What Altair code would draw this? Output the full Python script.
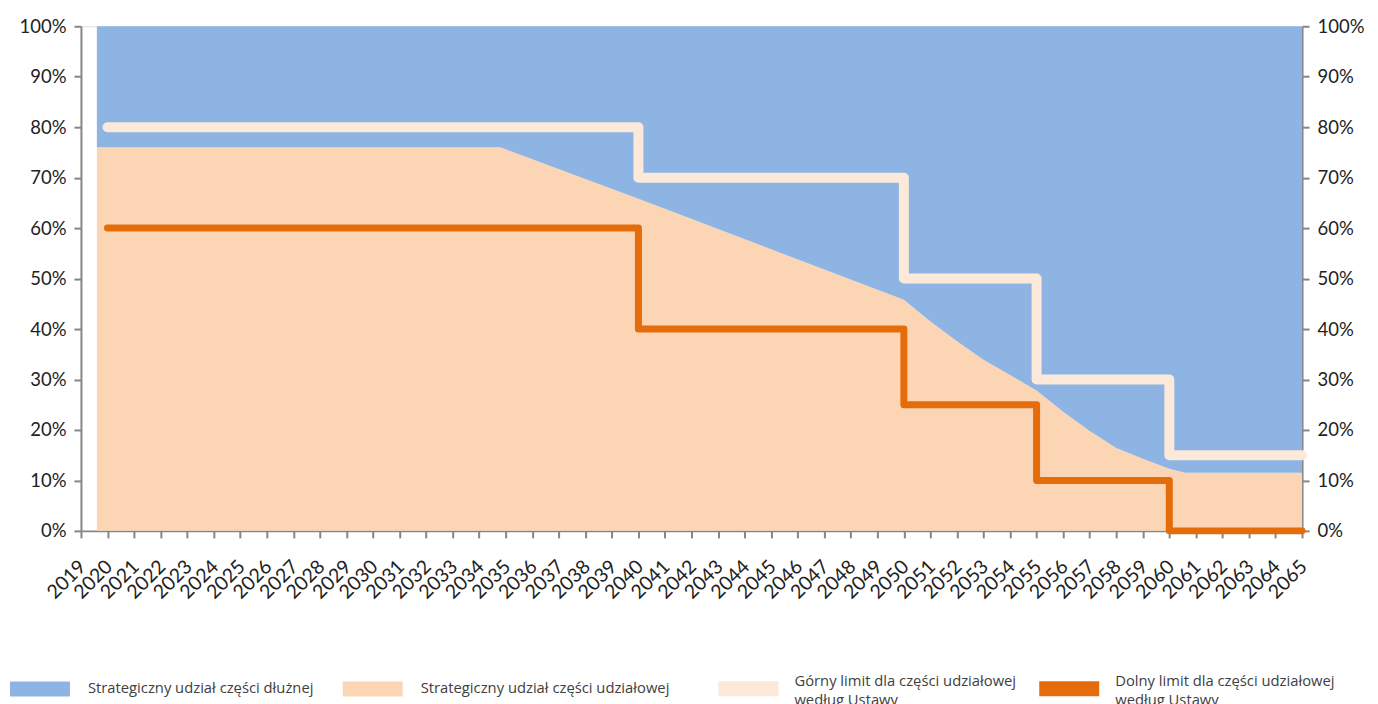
import altair as alt
import pandas as pd

# ---- data ----
area_years = [2019.6, 2034.8, 2040, 2045, 2050, 2051, 2052, 2053, 2054, 2055,
              2056, 2057, 2058, 2059, 2060, 2060.6, 2065]
equity_share = [76, 76, 65.8, 55.8, 45.8, 41.5, 37.6, 33.9, 30.9, 27.8,
                23.6, 19.8, 16.4, 14.3, 12.3, 11.5, 11.5]
debt_share = [round(100 - v, 1) for v in equity_share]

step_years = [2020, 2040, 2050, 2055, 2060, 2065]
upper_limit = [80, 70, 50, 30, 15, 15]
lower_limit = [60, 40, 25, 10, 0, 0]

year_ticks = list(range(2019, 2066))
pct_ticks = list(range(0, 101, 10))

S_DEBT = "Strategiczny udział części dłużnej"
S_EQ = "Strategiczny udział części udziałowej"
S_UP = "Górny limit dla części udziałowej według Ustawy"
S_LO = "Dolny limit dla części udziałowej według Ustawy"
C_DEBT, C_EQ, C_UP, C_LO = "#8DB4E2", "#FCD5B5", "#FDE9D9", "#E46C0A"

area_df = pd.DataFrame(
    [{"year": y, "value": v, "series": S_EQ, "ord": 0} for y, v in zip(area_years, equity_share)]
    + [{"year": y, "value": v, "series": S_DEBT, "ord": 1} for y, v in zip(area_years, debt_share)]
)
upper_df = pd.DataFrame({"year": step_years, "value": upper_limit})
lower_df = pd.DataFrame({"year": step_years, "value": lower_limit})
limits_df = pd.DataFrame({"series": [S_UP, S_LO]})

AXIS_GRAY = "#868686"
FONT = "Lato"
LEG_FONT = "Open Sans"
RECT = "M-2,-0.5H2V0.5H-2Z"

x_axis = alt.Axis(
    values=year_ticks, labelAngle=-45, format="d", labelFontSize=19.5, labelFont=FONT,
    labelColor="#222222", domainColor=AXIS_GRAY, domainWidth=2, tickColor=AXIS_GRAY,
    tickWidth=2, tickSize=7, grid=False, title=None, labelOverlap=False, labelPadding=19,
    labelOffset=-5,
)
x_scale = alt.Scale(domain=[2019, 2065], nice=False, zero=False)

def y_axis(orient):
    return alt.Axis(
        orient=orient, values=pct_ticks, labelExpr="datum.value + '%'", labelFontSize=18.5,
        labelFont=FONT, labelColor="#222222", domainColor=AXIS_GRAY, domainWidth=2,
        tickColor=AXIS_GRAY, tickWidth=2, tickSize=7, grid=False, title=None, labelPadding=8,
    )

y_scale = alt.Scale(domain=[0, 100], nice=False)

legend_areas = alt.Legend(
    orient="none", legendX=-56, legendY=648, direction="horizontal", columns=2, title=None,
    symbolType=RECT, symbolSize=900, symbolStrokeWidth=0, symbolOpacity=1,
    labelOffset=33, labelFontSize=14.8, labelFont=LEG_FONT, labelColor="#404040", labelLimit=400,
    columnPadding=29, labelBaseline="middle",
)
legend_limits = alt.Legend(
    orient="none", legendX=653, legendY=648, direction="horizontal", columns=2, title=None,
    symbolType=RECT, symbolSize=900, symbolStrokeWidth=0, symbolOpacity=1,
    labelOffset=31, labelFontSize=14.8, labelFont=LEG_FONT, labelColor="#404040", labelLimit=400,
    columnPadding=22, labelBaseline="bottom",
    labelExpr="split(replace(datum.label, ' według', '|według'), '|')",
)

areas = alt.Chart(area_df).mark_area(opacity=1, interpolate="linear").encode(
    x=alt.X("year:Q", scale=x_scale, axis=x_axis),
    y=alt.Y("value:Q", stack="zero", scale=y_scale, axis=y_axis("left")),
    fill=alt.Fill("series:N", scale=alt.Scale(domain=[S_DEBT, S_EQ], range=[C_DEBT, C_EQ]),
                  legend=legend_areas),
    order=alt.Order("ord:Q"),
)

upper = alt.Chart(upper_df).mark_line(
    interpolate="step-after", color=C_UP, strokeWidth=10, strokeCap="round", strokeJoin="round", clip=False
).encode(
    x=alt.X("year:Q", scale=x_scale, axis=x_axis),
    y=alt.Y("value:Q", scale=y_scale, axis=y_axis("right")),
)

lower = alt.Chart(lower_df).mark_line(
    interpolate="step-after", color=C_LO, strokeWidth=7, strokeCap="round", strokeJoin="round", clip=False
).encode(
    x=alt.X("year:Q", scale=x_scale, axis=x_axis),
    y=alt.Y("value:Q", scale=y_scale, axis=None),
)

# invisible carrier for the legend entries of the two limit lines
limit_keys = alt.Chart(limits_df).mark_point(size=0, filled=True, strokeWidth=0).encode(
    fill=alt.Fill("series:N", scale=alt.Scale(domain=[S_UP, S_LO], range=[C_UP, C_LO]),
                  legend=legend_limits),
)

chart = alt.layer(areas, upper, lower, limit_keys).resolve_scale(
    y="shared", fill="independent"
).resolve_axis(y="independent").properties(
    width=1222, height=505,
    padding={"left": 10, "top": 9, "right": 5, "bottom": 5},
).configure_view(stroke=None).configure(
    background="white", style={"guide-label": {"lineHeight": 19}}
)

chart.save("out.html", embed_options={"renderer": "svg", "actions": False})
